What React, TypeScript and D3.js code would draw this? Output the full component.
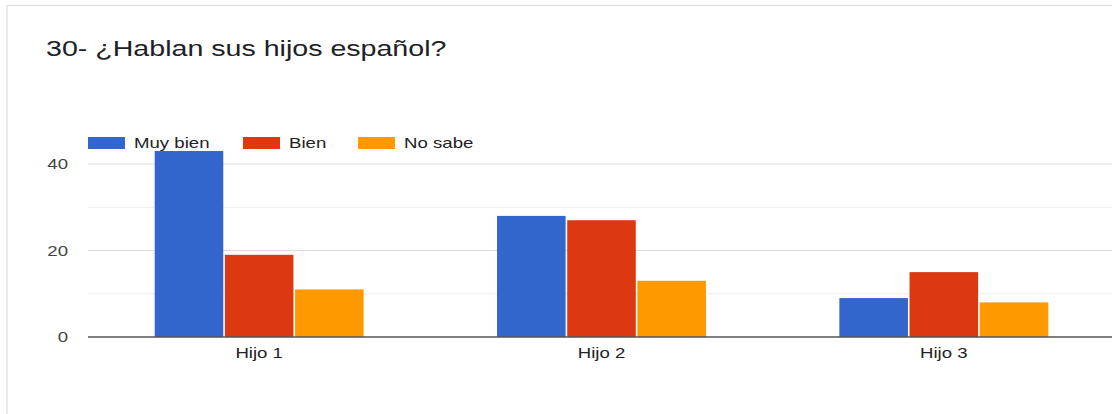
import React from "react";
import * as d3 from "d3";

const categories = ["Hijo 1", "Hijo 2", "Hijo 3"];
const seriesNames = ["Muy bien", "Bien", "No sabe"];
const muyBien = [43, 28, 9];
const bien = [19, 27, 15];
const noSabe = [11, 13, 8];
const yTicks = [0, 20, 40];
const gridTicks = [10, 20, 30, 40];
const colors = ["#3366cc", "#dc3912", "#ff9900"];

const W = 1112;
const H = 414;
const SX = 1.33;
const FONT = "'Liberation Sans', Arial, sans-serif";

function SText(props: { x: number; y: number; size: number; fill: string; anchor?: string; sx?: number; children: React.ReactNode }) {
  const { x, y, size, fill, anchor = "start", sx = SX, children } = props;
  return (
    <g transform={`translate(${x},${y}) scale(${sx},1)`}>
      <text x={0} y={0} fontSize={size} fill={fill} textAnchor={anchor} fontFamily={FONT}>
        {children}
      </text>
    </g>
  );
}

export default function App() {
  const values = [muyBien, bien, noSabe];
  const left = 88;
  const right = 1115;
  const y = d3.scaleLinear().domain([0, 40]).range([337, 164]);
  const x0 = d3.scaleBand<string>().domain(categories).range([left, right]).paddingInner(0.385).paddingOuter(0.1925);
  const x1 = d3.scaleBand<string>().domain(seriesNames).range([0, x0.bandwidth()]).padding(0);

  const legendX = [88, 243, 358];

  return (
    <svg width={W} height={H} style={{ position: "absolute", left: 0, top: 0, background: "#fff" }}>
      <rect x={0} y={0} width={W} height={H} fill="#fff" />
      <line x1={7} y1={5.5} x2={W} y2={5.5} stroke="#e3e3e3" strokeWidth={1.5} />
      <line x1={7} y1={5} x2={7} y2={H} stroke="#e3e3e3" strokeWidth={1.5} />

      <SText x={46} y={56} size={22} fill="#202124" sx={1.3}>30- ¿Hablan sus hijos español?</SText>

      {gridTicks.map((t) => (
        <line key={t} x1={left} x2={W} y1={y(t)} y2={y(t)} stroke={t % 20 === 0 ? "#dcdcdc" : "#ececec"} strokeWidth={1} />
      ))}

      {yTicks.map((t) => (
        <SText key={t} x={68} y={y(t) + 5} size={14} fill="#444" anchor="end">{String(t)}</SText>
      ))}

      {categories.map((c, ci) => (
        <g key={c}>
          {seriesNames.map((s, si) => {
            const v = values[si][ci];
            const bx = (x0(c) as number) + (x1(s) as number);
            return (
              <rect key={s} x={bx + 0.8} y={y(v)} width={x1.bandwidth() - 1.6} height={y(0) - y(v)} fill={colors[si]} />
            );
          })}
          <SText x={(x0(c) as number) + x0.bandwidth() / 2} y={357.5} size={14} fill="#222" anchor="middle">{c}</SText>
        </g>
      ))}

      <line x1={left} x2={W} y1={y(0)} y2={y(0)} stroke="#555" strokeWidth={1.5} />

      {seriesNames.map((s, i) => (
        <g key={s}>
          <rect x={legendX[i]} y={137} width={37} height={12} fill={colors[i]} />
          <SText x={legendX[i] + 46} y={148} size={14} fill="#222">{s}</SText>
        </g>
      ))}
    </svg>
  );
}
